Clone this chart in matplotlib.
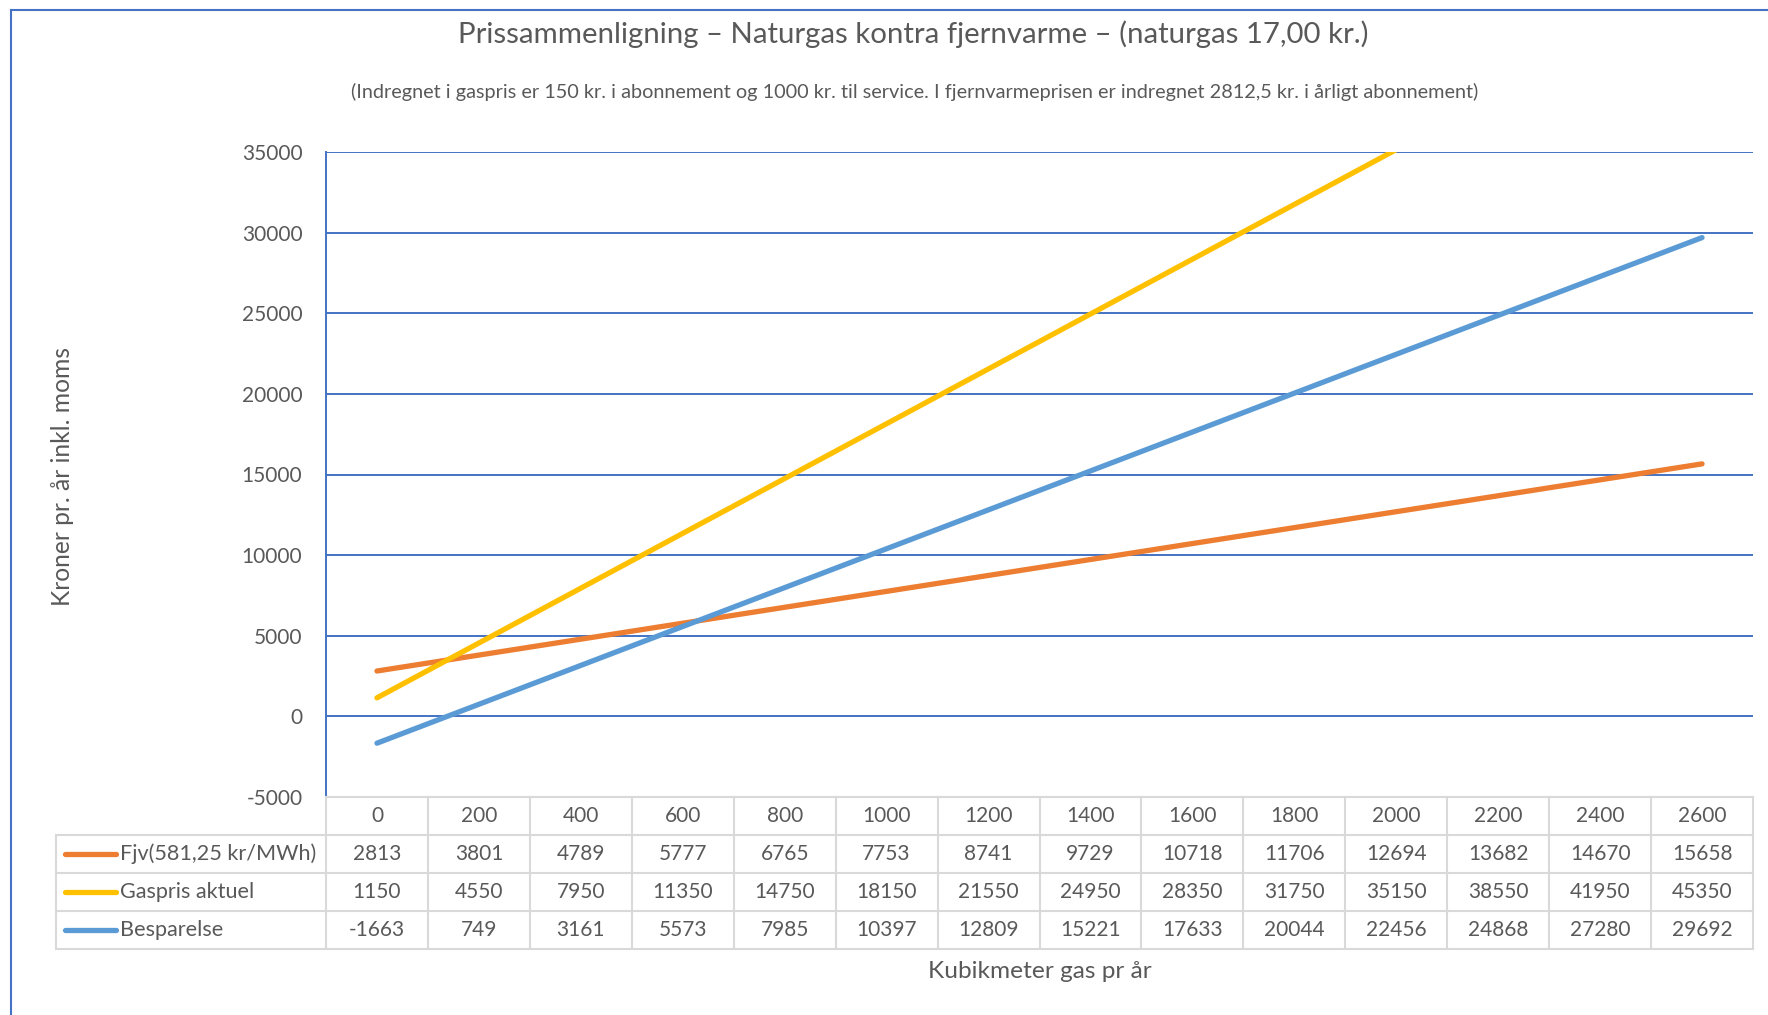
import matplotlib
matplotlib.use("Agg")
import matplotlib.pyplot as plt
from matplotlib.lines import Line2D
import numpy as np

plt.rcParams['font.family'] = ['Lato', 'DejaVu Sans']

# ---------------- data ----------------
categories = [0, 200, 400, 600, 800, 1000, 1200, 1400, 1600, 1800, 2000, 2200, 2400, 2600]
fjv = [2813, 3801, 4789, 5777, 6765, 7753, 8741, 9729, 10718, 11706, 12694, 13682, 14670, 15658]
gas = [1150, 4550, 7950, 11350, 14750, 18150, 21550, 24950, 28350, 31750, 35150, 38550, 41950, 45350]
besparelse = [-1663, 749, 3161, 5573, 7985, 10397, 12809, 15221, 17633, 20044, 22456, 24868, 27280, 29692]
series_names = ["Fjv(581,25 kr/MWh)", "Gaspris aktuel", "Besparelse"]
yticks = [-5000, 0, 5000, 10000, 15000, 20000, 25000, 30000, 35000]
title = "Prissammenligning – Naturgas kontra fjernvarme – (naturgas 17,00 kr.)"
subtitle = ("(Indregnet i gaspris er 150 kr. i abonnement og 1000 kr. til service. "
            "I fjernvarmeprisen er indregnet 2812,5 kr. i årligt abonnement)")
ylabel = "Kroner pr. år inkl. moms"
xlabel = "Kubikmeter gas pr år"

colors = ["#ED7D31", "#FFC000", "#5B9BD5"]
txt_col = "#595959"
grid_col = "#4472C4"
tab_col = "#D9D9D9"

W, H = 1768, 1015
fig = plt.figure(figsize=(W / 100, H / 100), dpi=100)

def px(x0, y0, x1, y1):
    return [x0 / W, 1 - y1 / H, (x1 - x0) / W, (y1 - y0) / H]

ax = fig.add_axes(px(326, 152, 1753, 797))
tax = fig.add_axes(px(326, 797, 1753, 949))

n = len(categories)
xs = np.arange(n)
for vals, c in zip([fjv, gas, besparelse], colors):
    ax.plot(xs, vals, color=c, lw=3.8, solid_capstyle='round', zorder=3)

ax.set_xlim(-0.5, n - 0.5)
ax.set_ylim(-5000, 35000)
ax.set_yticks(yticks)
ax.set_yticklabels([str(v) for v in yticks])
ax.set_xticks([])
for v in yticks[1:]:
    ax.axhline(v, color=grid_col, lw=1.4, zorder=1)
for s in ['top', 'right', 'bottom']:
    ax.spines[s].set_visible(False)
ax.spines['left'].set_color(grid_col)
ax.spines['left'].set_linewidth(1.4)
ax.tick_params(axis='y', length=0, pad=17, colors=txt_col)

# ---------------- table ----------------
tax.set_xlim(-0.5, n - 0.5)
tax.set_ylim(4, 0)
tax.axis('off')
colw = (1753 - 326) / n
leg_left = -0.5 - (326 - 56) / colw
lkw = dict(color=tab_col, lw=1.5, clip_on=False, zorder=1)
tax.plot([-0.5, n - 0.5], [0, 0], **lkw)
for r in range(1, 5):
    tax.plot([leg_left, n - 0.5], [r, r], **lkw)
for k in range(n + 1):
    tax.plot([-0.5 + k, -0.5 + k], [0, 4], **lkw)
tax.plot([leg_left, leg_left], [1, 4], **lkw)

num_texts = []
for i, cat in enumerate(categories):
    num_texts.append(tax.text(i, 0.5, str(cat), ha='center', va='center', color=txt_col, fontsize=14))
for r, (vals, name, c) in enumerate(zip([fjv, gas, besparelse], series_names, colors)):
    y = r + 1.5
    for i, v in enumerate(vals):
        num_texts.append(tax.text(i, y, str(v), ha='center', va='center', color=txt_col, fontsize=14))
    x0 = -0.5 - (326 - 65) / colw
    x1 = -0.5 - (326 - 116) / colw
    tax.plot([x0, x1], [y, y], color=c, lw=3.8, solid_capstyle='round', clip_on=False)
    num_texts.append(tax.text(-0.5 - (326 - 120) / colw, y, name, ha='left', va='center',
                              color=txt_col, fontsize=14))

# ---------------- titles ----------------
t_title = fig.text(913 / W, 1 - 34 / H, title, ha='center', va='center', color=txt_col, fontsize=19)
t_sub = fig.text(915 / W, 1 - 92 / H, subtitle, ha='center', va='center', color=txt_col, fontsize=12)
t_yl = fig.text(62 / W, 1 - 476 / H, ylabel, ha='center', va='center', rotation=90, color=txt_col, fontsize=15)
t_xl = fig.text(1040 / W, 1 - 971 / H, xlabel, ha='center', va='center', color=txt_col, fontsize=15)

fig.canvas.draw()
r = fig.canvas.get_renderer()

def fit(t, target, vertical=False):
    bb = t.get_window_extent(r)
    w = bb.height if vertical else bb.width
    t.set_fontsize(t.get_fontsize() * target / w)

fit(t_title, 912)
fit(t_sub, 1124)
fit(t_yl, 260, vertical=True)
fit(t_xl, 223)

# numbers size: "35000" ~ 60 px wide
probe = fig.text(0, 0, "35000", fontsize=14)
bb = probe.get_window_extent(r)
numsize = 14 * 61 / bb.width
probe.remove()
for t in num_texts:
    t.set_fontsize(numsize)
for lab in ax.get_yticklabels():
    lab.set_fontsize(numsize)
# legend name width target: "Fjv(581,25 kr/MWh)" ~ 197 px
leg_t = [t for t in num_texts if t.get_text() == series_names[0]][0]
bb = leg_t.get_window_extent(r)
legsize = numsize * 197 / bb.width
for t in num_texts:
    if t.get_text() in series_names:
        t.set_fontsize(legsize)

# figure frame (top and left edges visible)
fig.add_artist(Line2D([11 / W, 1], [1 - 10 / H, 1 - 10 / H], transform=fig.transFigure,
                      color=grid_col, lw=1.5))
fig.add_artist(Line2D([11 / W, 11 / W], [0, 1 - 10 / H], transform=fig.transFigure,
                      color=grid_col, lw=1.5))

fig.savefig("out.png", dpi=100)
